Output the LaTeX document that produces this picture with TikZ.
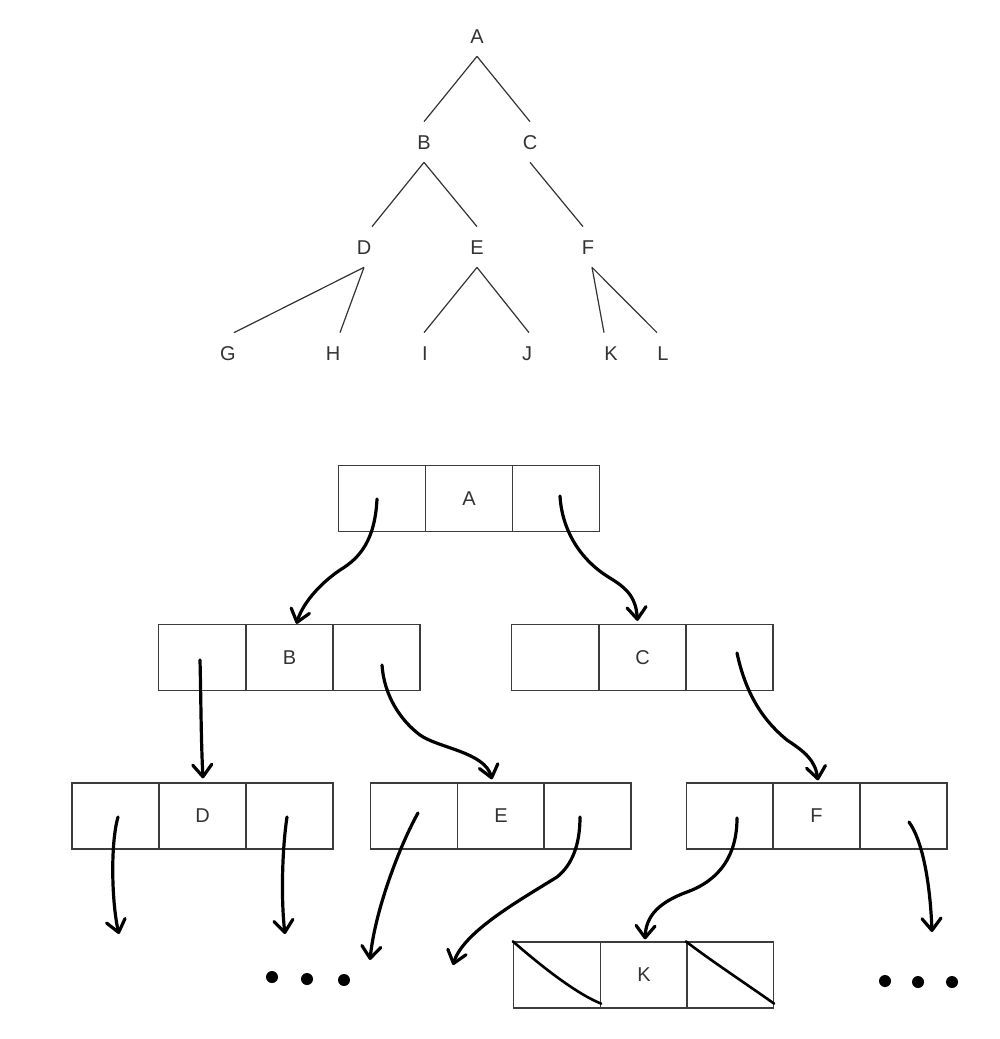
\documentclass[tikz,border=0pt]{standalone}
\usepackage{fontspec}
\setmainfont{Liberation Sans}
\usetikzlibrary{arrows.meta}
\definecolor{ink}{HTML}{333333}
\definecolor{frame}{HTML}{3C3C3C}
\begin{document}
\begin{tikzpicture}[x=1pt,y=-1pt,
  lbl/.style={font=\fontsize{20}{20}\selectfont, text=ink, inner xsep=2pt,
    inner ysep=13pt, text height=14.3pt, text depth=0pt},
  edge/.style={draw=ink, line width=1.2pt},
  cell/.style={draw=frame, line width=1.3pt, minimum width=87pt, minimum height=66pt,
    inner sep=0pt, font=\fontsize{20}{20}\selectfont, text=ink},
  ptr/.style={line width=3.2pt, line cap=round, line join=round,
    -{Straight Barb[length=12pt,width=19pt,round]}},
  slash/.style={line width=2.6pt, line cap=round},
  dot/.style={fill=black}
]
\useasboundingbox (0,0) rectangle (1000,1039);

% ---------- binary tree ----------
\node[lbl] (tA) at (477,36) {A};
\node[lbl] (tB) at (424,142) {B};
\node[lbl] (tC) at (530,142) {C};
\node[lbl] (tD) at (364,247) {D};
\node[lbl] (tE) at (477,247) {E};
\node[lbl] (tF) at (588,247) {F};
\node[lbl] (tG) at (228,353) {G};
\node[lbl] (tH) at (333,353) {H};
\node[lbl] (tI) at (425,353) {I};
\node[lbl] (tJ) at (527,353) {J};
\node[lbl] (tK) at (611,353) {K};
\node[lbl] (tL) at (663,353) {L};

\draw[edge] (tA.south) -- (tB.north);
\draw[edge] (tA.south) -- (tC.north);
\draw[edge] (tB.south) -- ([xshift=8pt]tD.north);
\draw[edge] (tB.south) -- (tE.north);
\draw[edge] (tC.south) -- ([xshift=-5pt]tF.north);
\draw[edge] (tD.south) -- ([xshift=6pt]tG.north);
\draw[edge] (tD.south) -- ([xshift=7pt]tH.north);
\draw[edge] (tE.south) -- ([xshift=-1pt]tI.north);
\draw[edge] (tE.south) -- ([xshift=2pt]tJ.north);
\draw[edge] ([xshift=4pt]tF.south) -- ([xshift=-7pt]tK.north);
\draw[edge] ([xshift=4pt]tF.south) -- ([xshift=-6pt]tL.north);

% ---------- linked records ----------
\node[cell] (A1) at (382,498.5) {};
\node[cell] (A2) at (469,498.5) {A};
\node[cell] (A3) at (556,498.5) {};

\node[cell] (B1) at (202,657.5) {};
\node[cell] (B2) at (289.5,657.5) {B};
\node[cell] (B3) at (376.5,657.5) {};

\node[cell] (C1) at (555,657.5) {};
\node[cell] (C2) at (642.5,657.5) {C};
\node[cell] (C3) at (729.5,657.5) {};

\node[cell] (D1) at (115.5,816) {};
\node[cell] (D2) at (202.5,816) {D};
\node[cell] (D3) at (289.5,816) {};

\node[cell] (E1) at (414,816) {};
\node[cell] (E2) at (501,816) {E};
\node[cell] (E3) at (587.5,816) {};

\node[cell] (F1) at (730,816) {};
\node[cell] (F2) at (816.5,816) {F};
\node[cell] (F3) at (903.5,816) {};

\node[cell] (K1) at (557,975) {};
\node[cell] (K2) at (644,975) {K};
\node[cell] (K3) at (730,975) {};

% null links in the leaf record
\draw[slash] (K1.north west) .. controls (540,965) and (575,993) .. ([shift={(0,-5)}]K1.south east);
\draw[slash] (K3.north west) .. controls (710,960) and (745,983) .. ([shift={(0,-5)}]K3.south east);

% loose ends of pointers that lead further down
\coordinate (endD1) at (119,934);
\coordinate (endD3) at (285,934);
\coordinate (endE1) at (370,960);
\coordinate (endE3) at (453,965);
\coordinate (endF3) at (932,932);

% ---------- pointers ----------
\draw[ptr] ([shift={(-5,0.5)}]A1.center) .. controls (375,540) and (360,558) .. (340,570)
  .. controls (318,585) and (302,605) .. ([shift={(7,0)}]B2.north);
\draw[ptr] ([shift={(4,-2.5)}]A3.center) .. controls (562,530) and (580,560) .. (610,578)
  .. controls (630,590) and (636,600) .. ([shift={(-5,-3)}]C2.north);

\draw[ptr] ([shift={(-2,2.5)}]B1.center) .. controls (201,700) and (201,740) .. ([shift={(0.5,-4)}]D2.north);
\draw[ptr] ([shift={(5.5,7.5)}]B3.center) .. controls (384,695) and (400,720) .. (420,735)
  .. controls (438,748) and (485,752) .. ([shift={(-9,-3)}]E2.north);

\draw[ptr] ([shift={(7.5,-4.5)}]C3.center) .. controls (745,690) and (760,718) .. (787,740)
  .. controls (805,752) and (815,760) .. ([shift={(1.5,-2)}]F2.north);

\draw[ptr] ([shift={(2.5,1)}]D1.center) .. controls (110,845) and (112,905) .. (endD1);
\draw[ptr] ([shift={(-2.5,1)}]D3.center) .. controls (282,850) and (281,900) .. (endD3);

\draw[ptr] ([shift={(4,-3)}]E1.center) .. controls (400,845) and (375,910) .. (endE1);
\draw[ptr] ([shift={(-7.5,1)}]E3.center) .. controls (580,845) and (572,865) .. (557,877)
  .. controls (520,900) and (463,932) .. (endE3);

\draw[ptr] ([shift={(7,2)}]F1.center) .. controls (737,855) and (720,880) .. (687,892)
  .. controls (660,902) and (646,915) .. ([shift={(1,-2)}]K2.north);
\draw[ptr] ([shift={(5.5,6)}]F3.center) .. controls (922,840) and (930,880) .. (endF3);

% ellipses for the omitted subtrees
\fill[dot] (272,977) circle[radius=6pt];
\fill[dot] (307,979) circle[radius=6pt];
\fill[dot] (344,980) circle[radius=6pt];
\fill[dot] (885,981) circle[radius=6pt];
\fill[dot] (918,982) circle[radius=6pt];
\fill[dot] (952,982) circle[radius=6pt];
\end{tikzpicture}
\end{document}
